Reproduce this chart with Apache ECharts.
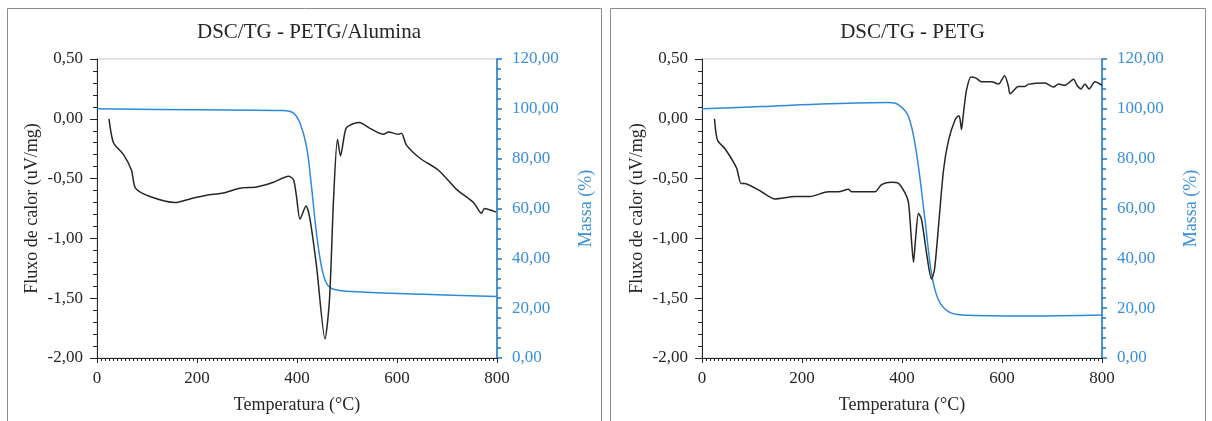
<!DOCTYPE html>
<html>
<head>
<meta charset="utf-8">
<script src="https://cdn.jsdelivr.net/npm/echarts@6/dist/echarts.min.js"></script>
<style>
  html, body { margin: 0; padding: 0; background: #ffffff; }
  #chart { width: 1212px; height: 421px; }
</style>
</head>
<body>
<div id="chart"></div>
<script>
// PETG/Alumina — DSC heat flow (uV/mg) vs temperature (°C)
const aluminaDscTemp = [24, 33, 53, 69, 77, 106, 156, 186, 219, 253, 286, 319, 353, 383, 393, 399, 406, 418, 426, 439, 456, 465, 473, 481, 487, 498, 513, 525, 546, 573, 583, 603, 609, 619, 646, 683, 719, 753, 769, 775, 798];
const aluminaDsc     = [0.00, -0.20, -0.30, -0.43, -0.58, -0.65, -0.70, -0.67, -0.64, -0.62, -0.58, -0.57, -0.53, -0.48, -0.51, -0.65, -0.84, -0.73, -0.84, -1.23, -1.84, -1.51, -0.68, -0.17, -0.31, -0.08, -0.04, -0.03, -0.08, -0.13, -0.11, -0.13, -0.12, -0.22, -0.33, -0.43, -0.59, -0.70, -0.79, -0.75, -0.78];

// PETG/Alumina — TG mass (%) vs temperature (°C)
const aluminaTgTemp = [0, 200, 372, 393, 406, 419, 429, 439, 449, 459, 473, 519, 653, 800];
const aluminaTg     = [100.0, 99.6, 99.3, 98.3, 94.3, 84.9, 68.8, 50.0, 36.7, 30.0, 27.6, 26.6, 25.6, 24.7];

// PETG — DSC heat flow (uV/mg) vs temperature (°C)
const petgDscTemp = [25, 31, 46, 69, 78, 84, 119, 146, 186, 216, 253, 273, 293, 299, 346, 359, 379, 393, 406, 413, 418, 423, 427, 433, 439, 449, 459, 465, 473, 483, 493, 506, 513, 516, 519, 523, 529, 538, 548, 559, 579, 593, 605, 613, 616, 633, 646, 653, 686, 703, 713, 726, 743, 750, 758, 766, 774, 786, 800];
const petgDsc     = [0.00, -0.18, -0.25, -0.41, -0.54, -0.54, -0.61, -0.67, -0.65, -0.65, -0.61, -0.61, -0.59, -0.61, -0.61, -0.55, -0.53, -0.54, -0.62, -0.70, -0.96, -1.20, -1.01, -0.79, -0.84, -1.12, -1.34, -1.26, -0.90, -0.43, -0.18, -0.01, 0.025, 0.00, -0.09, 0.05, 0.24, 0.35, 0.34, 0.31, 0.31, 0.29, 0.36, 0.27, 0.21, 0.27, 0.27, 0.29, 0.30, 0.265, 0.29, 0.28, 0.33, 0.28, 0.25, 0.29, 0.25, 0.31, 0.28];

// PETG — TG mass (%) vs temperature (°C)
const petgTgTemp = [0, 119, 253, 373, 393, 413, 429, 446, 459, 473, 493, 519, 653, 800];
const petgTg     = [100.0, 100.9, 102.0, 102.5, 101.6, 96.9, 82.2, 55.4, 34.0, 23.3, 18.6, 17.3, 16.9, 17.3];

// Axis ticks
const xTicks = { min: 0, max: 800, interval: 200 };
const dscTicks = { min: -2, max: 0.5, interval: 0.5 };
const massTicks = { min: 0, max: 120, interval: 20 };

const titles = ['DSC/TG - PETG/Alumina', 'DSC/TG - PETG'];

const zip = (xs, ys) => xs.map((x, i) => [x, ys[i]]);
const commaFmt = v => v.toFixed(2).replace('.', ',');

const FONT = "'Liberation Serif', 'DejaVu Serif', serif";
const BLACK = '#262626';
const BLUE_LINE = '#2f8ad8';
const BLUE_AXIS = '#1b78c9';
const BLUE_TEXT = '#3a8fd8';

const panels = [
  { left: 97, box: [7, 8, 594, 420], dsc: zip(aluminaDscTemp, aluminaDsc), tg: zip(aluminaTgTemp, aluminaTg) },
  { left: 702, box: [610, 8, 595, 420], dsc: zip(petgDscTemp, petgDsc), tg: zip(petgTgTemp, petgTg) }
];

const grids = [], xAxes = [], yAxes = [], series = [], title = [], graphic = [];

panels.forEach((p, i) => {
  graphic.push({
    type: 'rect', silent: true, z: -1,
    shape: { x: p.box[0] + 0.5, y: p.box[1] + 0.5, width: p.box[2], height: p.box[3] },
    style: { fill: '#ffffff', stroke: '#8c8c8c', lineWidth: 1 }
  });
  title.push({
    text: titles[i],
    left: p.box[0] + p.box[2] / 2, top: 17, textAlign: 'center',
    textStyle: { fontFamily: FONT, fontSize: 21, fontWeight: 'normal', color: BLACK }
  });
  grids.push({
    left: p.left, top: 59, width: 400, height: 299,
    show: true, borderColor: '#c8c8c8', borderWidth: 1, backgroundColor: 'transparent'
  });
  xAxes.push({
    type: 'value', gridIndex: i, min: xTicks.min, max: xTicks.max, interval: xTicks.interval,
    name: 'Temperatura (°C)', nameLocation: 'middle', nameGap: 38,
    nameTextStyle: { fontFamily: FONT, fontSize: 18, color: BLACK },
    axisLine: { show: true, onZero: false, lineStyle: { color: BLACK, width: 1 } },
    axisTick: { show: true, length: 5, lineStyle: { color: BLACK } },
    minorTick: { show: true, splitNumber: 25, length: 3, lineStyle: { color: BLACK } },
    splitLine: { show: false }, minorSplitLine: { show: false },
    axisLabel: { fontFamily: FONT, fontSize: 17, color: BLACK, margin: 12 }
  });
  yAxes.push({
    type: 'value', gridIndex: i, position: 'left',
    min: dscTicks.min, max: dscTicks.max, interval: dscTicks.interval,
    name: 'Fluxo de calor (uV/mg)', nameLocation: 'middle', nameGap: 56,
    nameTextStyle: { fontFamily: FONT, fontSize: 18, color: BLACK },
    axisLine: { show: true, onZero: false, lineStyle: { color: BLACK, width: 1 } },
    axisTick: { show: true, length: 7, lineStyle: { color: BLACK } },
    minorTick: { show: true, splitNumber: 5, length: 4, lineStyle: { color: BLACK } },
    splitLine: { show: false }, minorSplitLine: { show: false },
    axisLabel: { fontFamily: FONT, fontSize: 17, color: BLACK, margin: 14, formatter: commaFmt }
  });
  yAxes.push({
    type: 'value', gridIndex: i, position: 'right',
    min: massTicks.min, max: massTicks.max, interval: massTicks.interval,
    name: 'Massa (%)', nameLocation: 'middle', nameGap: 80,
    nameTextStyle: { fontFamily: FONT, fontSize: 18, color: BLUE_TEXT },
    axisLine: { show: true, onZero: false, lineStyle: { color: BLUE_AXIS, width: 1.5 } },
    axisTick: { show: true, length: 5, lineStyle: { color: BLUE_AXIS, width: 1.5 } },
    minorTick: { show: true, splitNumber: 5, length: 4, lineStyle: { color: BLUE_AXIS, width: 1.5 } },
    splitLine: { show: false }, minorSplitLine: { show: false },
    axisLabel: { fontFamily: FONT, fontSize: 17, color: BLUE_TEXT, margin: 15, formatter: commaFmt }
  });
  series.push({
    type: 'line', name: 'DSC', xAxisIndex: i, yAxisIndex: i * 2,
    data: p.dsc, showSymbol: false, smooth: 0.25,
    lineStyle: { color: BLACK, width: 1.5 }, z: 3
  });
  series.push({
    type: 'line', name: 'TG', xAxisIndex: i, yAxisIndex: i * 2 + 1,
    data: p.tg, showSymbol: false, smooth: 0.35,
    lineStyle: { color: BLUE_LINE, width: 1.5 }, z: 2
  });
});

const chart = echarts.init(document.getElementById('chart'), null, { renderer: 'canvas' });
chart.setOption({
  animation: false,
  backgroundColor: '#ffffff',
  textStyle: { fontFamily: FONT },
  title, graphic, grid: grids, xAxis: xAxes, yAxis: yAxes, series
});
</script>
</body>
</html>
